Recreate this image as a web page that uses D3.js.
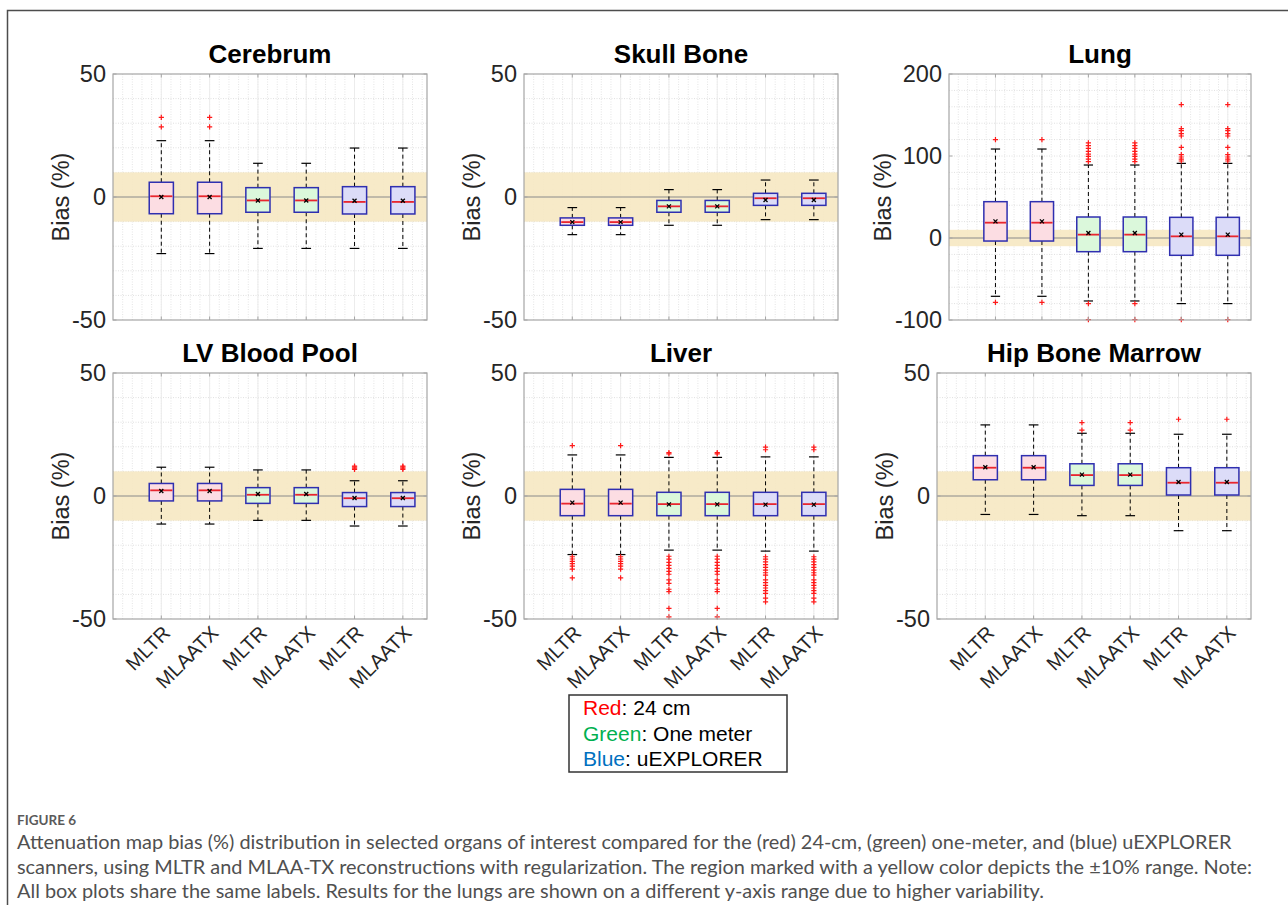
<!DOCTYPE html>
<html lang="en">
<head>
<meta charset="utf-8">
<title>Figure 6</title>
<script src="https://d3js.org/d3.v7.min.js"></script>
<style>
  body { margin: 0; background: #fff; }
  .axis-text { font-family: "Liberation Sans", Arial, Helvetica, sans-serif; fill: #262626; }
  .title { font-family: "Liberation Sans", Arial, Helvetica, sans-serif; font-weight: bold; fill: #000; }
  .caption { font-family: Lato, "Open Sans", sans-serif; fill: #505050; }
</style>
</head>
<body>
<div id="chart"></div>
<script>
// ---- data ----
var organs = ["Cerebrum", "Skull Bone", "Lung", "LV Blood Pool", "Liver", "Hip Bone Marrow"];
var methods = ["MLTR", "MLAATX", "MLTR", "MLAATX", "MLTR", "MLAATX"];
var scanners = ["24 cm", "24 cm", "One meter", "One meter", "uEXPLORER", "uEXPLORER"];
var yDomains = [[-50, 50], [-50, 50], [-100, 200], [-50, 50], [-50, 50], [-50, 50]];
var yTicks = [[-50, 0, 50], [-50, 0, 50], [-100, 0, 100, 200], [-50, 0, 50], [-50, 0, 50], [-50, 0, 50]];
var yMinorStep = [10, 10, 20, 10, 10, 10];
var band = [-10, 10];

// one row per organ, one value per box
var q3 = [
  [6.0, 6.0, 3.8, 3.8, 4.2, 4.2],
  [-8.5, -8.5, -1.4, -1.4, 1.5, 1.5],
  [44.3, 44.3, 25.6, 25.6, 25.2, 25.2],
  [5.1, 5.1, 3.4, 3.4, 1.4, 1.4],
  [2.7, 2.7, 1.5, 1.5, 1.5, 1.5],
  [16.4, 16.4, 13.1, 13.1, 11.5, 11.5]
];
var q1 = [
  [-6.8, -6.8, -6.2, -6.2, -6.9, -6.9],
  [-11.5, -11.5, -6.2, -6.2, -3.4, -3.4],
  [-3.7, -3.7, -16.7, -16.7, -21.1, -21.1],
  [-2.0, -2.0, -3.0, -3.0, -4.3, -4.3],
  [-8.0, -8.0, -8.0, -8.0, -8.0, -8.0],
  [6.6, 6.6, 4.3, 4.3, 0.4, 0.4]
];
var medians = [
  [0.3, 0.3, -1.4, -1.4, -2.0, -2.0],
  [-10.2, -10.2, -3.8, -3.8, -0.5, -0.5],
  [18.7, 18.7, 4.1, 4.1, 2.0, 2.0],
  [2.3, 2.3, 0.5, 0.5, -0.9, -0.9],
  [-3.1, -3.1, -3.3, -3.3, -3.3, -3.3],
  [11.5, 11.5, 8.5, 8.5, 5.4, 5.4]
];
var means = [
  [0, 0, -1.4, -1.4, -1.5, -1.5],
  [-10.2, -10.2, -3.8, -3.8, -1.2, -1.2],
  [20.3, 20.3, 6.1, 6.1, 4.1, 4.1],
  [2.0, 2.0, 0.8, 0.8, -0.8, -0.8],
  [-2.7, -2.7, -3.4, -3.4, -3.5, -3.5],
  [11.7, 11.7, 8.7, 8.7, 5.7, 5.7]
];
var whiskerHigh = [
  [22.9, 22.9, 13.7, 13.7, 19.9, 19.9],
  [-4.3, -4.3, 3.0, 3.0, 6.9, 6.9],
  [108.5, 108.5, 89, 89, 91, 91],
  [11.7, 11.7, 10.6, 10.6, 6.2, 6.2],
  [16.7, 16.7, 15.7, 15.7, 15.9, 15.9],
  [28.9, 28.9, 25.5, 25.5, 25.1, 25.1]
];
var whiskerLow = [
  [-23.0, -23.0, -20.9, -20.9, -20.9, -20.9],
  [-15.3, -15.3, -11.5, -11.5, -9.2, -9.2],
  [-71.1, -71.1, -76.8, -76.8, -80, -80],
  [-11.4, -11.4, -9.9, -9.9, -12.2, -12.2],
  [-23.8, -23.8, -22.0, -22.0, -22.4, -22.4],
  [-7.5, -7.5, -8.0, -8.0, -14.1, -14.1]
];
var lungOut24 = [120, -78.5];
var lungOutOne = [115.9, 112.6, 109.3, 105.7, 102.4, 99.6, 96.3, 93.1, -80, -99.6];
var lungOutUx = [162.6, 133.3, 130.9, 127.2, 124.4, 110.6, 101.6, 98.8, 96.3, 93.9, -99.6];
var liverOut24 = [20.5, -24.7, -25.6, -26.6, -27.5, -28.5, -29.7, -33.3];
var liverOutOne = [17.6, 17.1, -24.5, -25.7, -27.0, -28.2, -29.4, -30.6, -31.8, -34.1, -35.5, -37.9, -38.9, -45.7, -49.1];
var liverOutUx = [19.9, 18.8, -24.7, -25.7, -26.8, -27.9, -29.0, -30.1, -31.2, -32.2, -34.1, -35.2, -36.3, -37.4, -38.5, -39.6, -41.5, -43.0];
var outliers = [
  [[32.4, 28.5], [32.4, 28.5], [], [], [], []],
  [[], [], [], [], [], []],
  [lungOut24, lungOut24, lungOutOne, lungOutOne, lungOutUx, lungOutUx],
  [[], [], [], [], [10.8, 11.3, 11.8, 12.2], [10.8, 11.3, 11.8, 12.2]],
  [liverOut24, liverOut24, liverOutOne, liverOutOne, liverOutUx, liverOutUx],
  [[], [], [29.8, 26.8], [29.8, 26.8], [31.2], [31.2]]
];
var legendItems = [["Red", ": 24 cm"], ["Green", ": One meter"], ["Blue", ": uEXPLORER"]];
var captionHead = "FIGURE 6";
var captionLines = [
  "Attenuation map bias (%) distribution in selected organs of interest compared for the (red) 24-cm, (green) one-meter, and (blue) uEXPLORER",
  "scanners, using MLTR and MLAA-TX reconstructions with regularization. The region marked with a yellow color depicts the \u00b110% range. Note:",
  "All box plots share the same labels. Results for the lungs are shown on a different y-axis range due to higher variability."
];

// ---- layout ----
var W = 1288, H = 905;
var panels = [
  {left: 113, right: 427, top: 74},
  {left: 524, right: 838, top: 74},
  {left: 949, right: 1251, top: 74},
  {left: 113, right: 427, top: 373},
  {left: 524, right: 838, top: 373},
  {left: 937, right: 1251, top: 373}
];
var panelH = 246;
var boxFill = {"24 cm": "#fcdde3", "One meter": "#dbf8db", "uEXPLORER": "#dcdcf8"};
var legendColor = {"Red": "#ff0000", "Green": "#00b050", "Blue": "#0070c0"};

var svg = d3.select("#chart").append("svg")
    .attr("width", W).attr("height", H);

// outer frame
svg.append("rect")
    .attr("x", 7.5).attr("y", 10.5)
    .attr("width", 1300).attr("height", 1000)
    .attr("fill", "none").attr("stroke", "#4d4d4d").attr("stroke-width", 1.5);

organs.forEach(function(name, k) {
    var p = panels[k];
    var bottom = p.top + panelH;
    var x = d3.scaleLinear().domain([0, 6.5]).range([p.left, p.right]);
    var y = d3.scaleLinear().domain(yDomains[k]).range([bottom, p.top]);
    var g = svg.append("g");

    // minor grid
    var xs = d3.range(0.2, 6.5, 0.2);
    g.selectAll(".vminor").data(xs).enter().append("line")
        .attr("x1", function(d) { return x(d); }).attr("x2", function(d) { return x(d); })
        .attr("y1", p.top).attr("y2", bottom)
        .attr("stroke", "#e4e4e4").attr("stroke-dasharray", "1,1.5");
    var ys = d3.range(yDomains[k][0] + yMinorStep[k], yDomains[k][1], yMinorStep[k]);
    g.selectAll(".hminor").data(ys).enter().append("line")
        .attr("x1", p.left).attr("x2", p.right)
        .attr("y1", function(d) { return y(d); }).attr("y2", function(d) { return y(d); })
        .attr("stroke", "#e0e0e0").attr("stroke-dasharray", "1,1.5");
    // major grid
    g.selectAll(".vmajor").data(d3.range(1, 7)).enter().append("line")
        .attr("x1", function(d) { return x(d); }).attr("x2", function(d) { return x(d); })
        .attr("y1", p.top).attr("y2", bottom)
        .attr("stroke", "#ececec");

    // +-10% band
    g.append("rect")
        .attr("x", p.left).attr("width", p.right - p.left)
        .attr("y", y(band[1])).attr("height", y(band[0]) - y(band[1]))
        .attr("fill", "#f6e8c2").attr("opacity", 0.9);
    // zero line
    g.append("line")
        .attr("x1", p.left).attr("x2", p.right)
        .attr("y1", y(0)).attr("y2", y(0))
        .attr("stroke", "#8a8a8a").attr("stroke-width", 1);

    // boxes
    var bw = x(0.5) - x(0);
    var cw = x(0.2) - x(0);
    methods.forEach(function(m, i) {
        var cx = x(i + 1);
        var bg = g.append("g");
        // whiskers
        bg.append("line").attr("x1", cx).attr("x2", cx)
            .attr("y1", y(q3[k][i])).attr("y2", y(whiskerHigh[k][i]))
            .attr("stroke", "#000").attr("stroke-dasharray", "4,3");
        bg.append("line").attr("x1", cx).attr("x2", cx)
            .attr("y1", y(q1[k][i])).attr("y2", y(whiskerLow[k][i]))
            .attr("stroke", "#000").attr("stroke-dasharray", "4,3");
        [whiskerHigh[k][i], whiskerLow[k][i]].forEach(function(v) {
            bg.append("line").attr("x1", cx - cw / 2).attr("x2", cx + cw / 2)
                .attr("y1", y(v)).attr("y2", y(v))
                .attr("stroke", "#000").attr("stroke-width", 1.2);
        });
        bg.append("rect")
            .attr("x", cx - bw / 2).attr("width", bw)
            .attr("y", y(q3[k][i])).attr("height", y(q1[k][i]) - y(q3[k][i]))
            .attr("fill", boxFill[scanners[i]])
            .attr("stroke", "#2f2fb0").attr("stroke-width", 1.5);
        bg.append("line")
            .attr("x1", cx - bw / 2 + 1).attr("x2", cx + bw / 2 - 1)
            .attr("y1", y(medians[k][i])).attr("y2", y(medians[k][i]))
            .attr("stroke", "#e8262f").attr("stroke-width", 1.8);
        // mean marker
        var my = y(means[k][i]), s = 2;
        bg.append("path")
            .attr("d", "M" + (cx - s) + "," + (my - s) + "L" + (cx + s) + "," + (my + s) +
                       "M" + (cx - s) + "," + (my + s) + "L" + (cx + s) + "," + (my - s))
            .attr("stroke", "#000").attr("stroke-width", 1.3);
        // outliers
        bg.selectAll(".out").data(outliers[k][i]).enter().append("path")
            .attr("d", function(d) {
                var oy = y(d), r = 2.6;
                return "M" + (cx - r) + "," + oy + "L" + (cx + r) + "," + oy +
                       "M" + cx + "," + (oy - r) + "L" + cx + "," + (oy + r);
            })
            .attr("stroke", "#ff1a1a").attr("stroke-width", 1.2);
    });

    // axes frame and ticks
    g.append("rect")
        .attr("x", p.left).attr("y", p.top)
        .attr("width", p.right - p.left).attr("height", panelH)
        .attr("fill", "none").attr("stroke", "#a6a6a6").attr("stroke-width", 1.2);
    var tl = 3.5;
    g.selectAll(".xt").data(d3.range(1, 7)).enter().append("path")
        .attr("d", function(d) {
            return "M" + x(d) + "," + p.top + "v" + tl + "M" + x(d) + "," + bottom + "v" + (-tl);
        })
        .attr("stroke", "#a6a6a6");
    g.selectAll(".yt").data(yTicks[k]).enter().append("path")
        .attr("d", function(d) {
            return "M" + p.left + "," + y(d) + "h" + tl + "M" + p.right + "," + y(d) + "h" + (-tl);
        })
        .attr("stroke", "#a6a6a6");

    // y tick labels
    var labels = g.selectAll(".ytl").data(yTicks[k]).enter().append("text")
        .attr("class", "axis-text")
        .attr("x", p.left - 7).attr("y", function(d) { return y(d); })
        .attr("dy", "0.36em").attr("text-anchor", "end")
        .style("font-size", "23.5px")
        .text(function(d) { return d; });
    var maxW = 0;
    labels.each(function() { maxW = Math.max(maxW, this.getComputedTextLength()); });

    // y label
    g.append("text")
        .attr("class", "axis-text")
        .attr("transform", "translate(" + (p.left - 7 - maxW - 12) + "," + (p.top + panelH / 2) + ") rotate(-90)")
        .attr("dy", "0.36em").attr("text-anchor", "middle")
        .style("font-size", "23.5px")
        .text("Bias (%)");

    // title
    g.append("text")
        .attr("class", "title")
        .attr("x", (p.left + p.right) / 2).attr("y", p.top - 11)
        .attr("text-anchor", "middle")
        .style("font-size", "26px")
        .text(name);

    // x tick labels on bottom row only
    if (k >= 3) {
        g.selectAll(".xtl").data(methods).enter().append("text")
            .attr("class", "axis-text")
            .attr("transform", function(d, i) {
                return "translate(" + x(i + 1) + "," + (bottom + 5) + ") rotate(-45)";
            })
            .attr("dy", "0.72em").attr("text-anchor", "end")
            .style("font-size", "20px")
            .text(function(d) { return d; });
    }
});

// legend
var lg = svg.append("g");
lg.append("rect")
    .attr("x", 569).attr("y", 695).attr("width", 218).attr("height", 77)
    .attr("fill", "#fff").attr("stroke", "#333").attr("stroke-width", 1.5);
legendItems.forEach(function(d, i) {
    var t = lg.append("text")
        .attr("class", "axis-text")
        .attr("x", 583).attr("y", 715 + i * 25.5)
        .style("font-size", "21px").style("fill", "#000");
    t.append("tspan").style("fill", legendColor[d[0]]).text(d[0]);
    t.append("tspan").text(d[1]);
});

// caption
svg.append("text")
    .attr("class", "caption")
    .attr("x", 17).attr("y", 825)
    .style("font-size", "13.5px").style("font-weight", "bold").style("fill", "#5a5a5a")
    .text(captionHead);
var cap = svg.selectAll(".capline").data(captionLines).enter().append("text")
    .attr("class", "caption")
    .attr("x", 17).attr("y", function(d, i) { return 849 + i * 24.5; })
    .style("font-size", "17px")
    .text(function(d) { return d; });
// fit caption font to the reference line width
var w0 = cap.node().getComputedTextLength();
cap.style("font-size", (17 * 1215 / w0) + "px");
</script>
</body>
</html>
